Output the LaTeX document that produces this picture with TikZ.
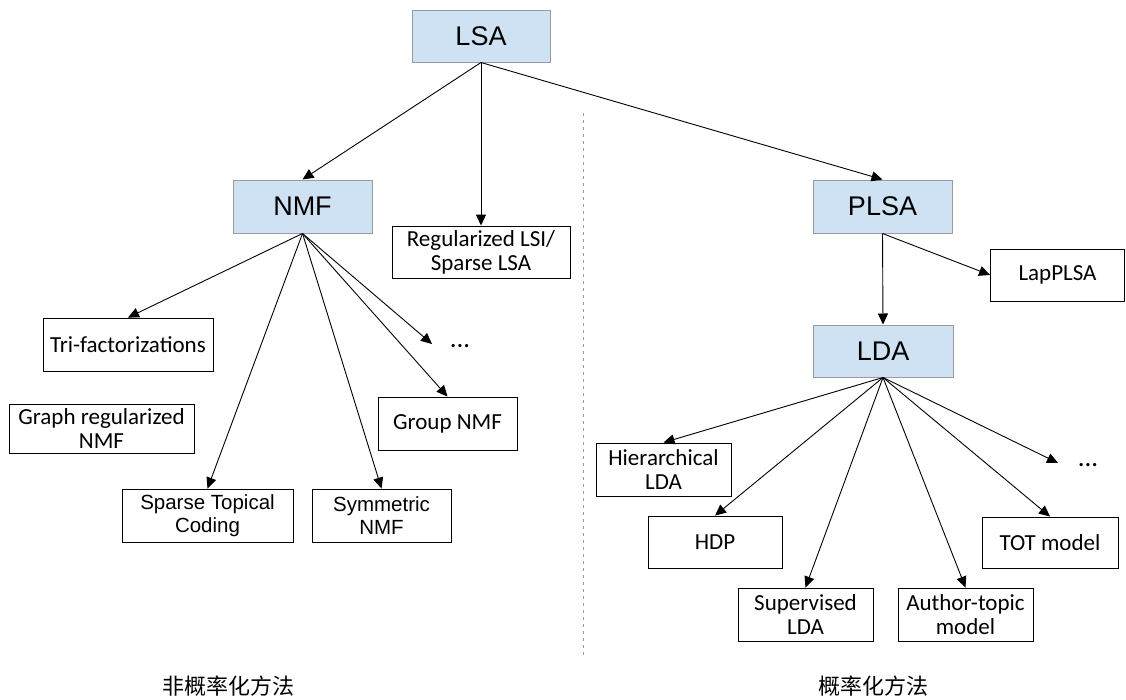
\documentclass[tikz,border=0pt]{standalone}
\usepackage{fontspec}
\setmainfont{Carlito}
\newfontfamily\arialf{Liberation Sans}
\newfontfamily\cjk{Noto Sans CJK SC}
\usetikzlibrary{arrows.meta}
\definecolor{boxblue}{HTML}{CFE2F3}
\definecolor{boxgray}{HTML}{9A9A9A}
\tikzset{
  bluebox/.style={draw=boxgray, line width=1pt, fill=boxblue, inner sep=0pt,
    minimum width=139pt, minimum height=53pt, font=\fontsize{27}{30}\selectfont\arialf},
  whitebox/.style={draw=black, line width=0.9pt, fill=white, inner sep=0pt, align=center,
    minimum height=53pt, font=\fontsize{23}{24}\selectfont},
  arialbox/.style={whitebox, font=\fontsize{20.5}{23}\selectfont\arialf},
  dotslabel/.style={font=\fontsize{27}{28}\selectfont, inner sep=0pt},
  arr/.style={line width=0.9pt, -{Triangle[length=11pt,width=10pt]}},
  cjklabel/.style={font=\fontsize{22}{24}\selectfont\cjk, inner sep=0pt}
}
\begin{document}
\begin{tikzpicture}[x=1pt,y=-1pt]
\useasboundingbox (0,0) rectangle (1126,699);
% divider
\draw[boxgray, line width=1pt, dash pattern=on 3pt off 4pt] (583,113) -- (583,657);
% main nodes
\node[bluebox, minimum width=138pt, minimum height=52pt] (lsa) at (481,36) {LSA};
\node[bluebox] (nmf) at (302.5,206.5) {NMF};
\node[bluebox] (plsa) at (882.5,206.5) {PLSA};
\node[bluebox, minimum width=140pt, minimum height=52pt] (lda) at (883,351) {LDA};
% left side
\node[whitebox, minimum width=178pt, minimum height=52pt] (reg) at (481,252) {Regularized LSI/\\Sparse LSA};
\node[whitebox, minimum width=170pt] (tri) at (128,344.5) {Tri-factorizations};
\node[whitebox, minimum width=185pt, minimum height=49pt] (graph) at (101.5,428.5) {Graph regularized\\NMF};
\node[arialbox, minimum width=171pt] (stc) at (207.5,515.5) {Sparse Topical\\Coding};
\node[arialbox, minimum width=139pt] (sym) at (381.5,515.5) {Symmetric\\NMF};
\node[whitebox, minimum width=139pt] (group) at (447.5,423.5) {Group NMF};
\node[dotslabel] (dotsl) at (460,346) {...};
\coordinate (dotsltip) at (432,344);
% right side
\node[whitebox, minimum width=134pt, minimum height=52pt] (lap) at (1057.5,275) {LapPLSA};
\node[whitebox, minimum width=135pt] (hier) at (663.5,469.5) {Hierarchical\\LDA};
\node[whitebox, minimum width=134pt, minimum height=52pt] (hdp) at (715,542) {HDP};
\node[whitebox, minimum width=135pt] (sup) at (805.5,614.5) {Supervised\\LDA};
\node[whitebox, minimum width=135pt] (auth) at (965.5,614.5) {Author-topic\\model};
\node[whitebox, minimum width=136pt, minimum height=51pt] (tot) at (1050,542.5) {TOT model};
\node[dotslabel] (dotsr) at (1088,465) {...};
\coordinate (dotsrtip) at (1058,463);
% bottom labels
\node[cjklabel] (noprob) at (228,686) {非概率化方法};
\node[cjklabel] (prob) at (873,686) {概率化方法};
% arrows from LSA
\draw[arr] (lsa.south) -- (nmf.north);
\draw[arr] (lsa.south) -- (reg.north);
\draw[arr] (lsa.south) -- (plsa.north);
% arrows from NMF
\draw[arr] (nmf.south) -- (tri.north);
\draw[arr] (nmf.south) -- (stc.north);
\draw[arr] (nmf.south) -- (sym.north);
\draw[arr] (nmf.south) -- (group.north);
\draw[arr] (nmf.south) -- (dotsltip);
% arrows from PLSA
\draw[arr] (plsa.south) -- (lda.north);
\draw[arr] (plsa.south) -- (lap.west);
% arrows from LDA
\draw[arr] (lda.south) -- (hier.north);
\draw[arr] (lda.south) -- (hdp.north);
\draw[arr] (lda.south) -- (sup.north);
\draw[arr] (lda.south) -- (auth.north);
\draw[arr] (lda.south) -- (tot.north);
\draw[arr] (lda.south) -- (dotsrtip);
\end{tikzpicture}
\end{document}
